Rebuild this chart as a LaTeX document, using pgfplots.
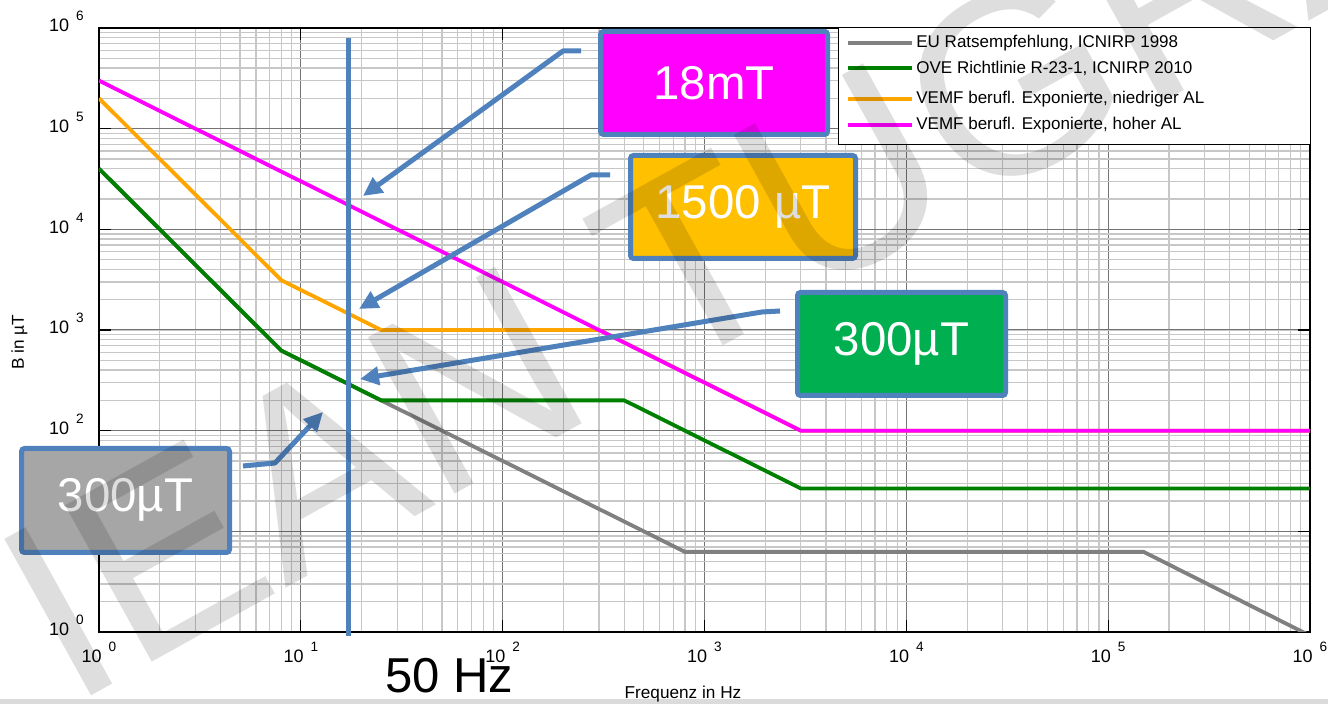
\documentclass[border=0pt]{standalone}
\usepackage{pgfplots}
\pgfplotsset{compat=1.18}
\usepackage{fontspec}
\setmainfont{Liberation Sans}
\usetikzlibrary{arrows.meta}
\definecolor{annblue}{RGB}{79,129,189}
\definecolor{boxorange}{RGB}{255,192,0}
\definecolor{boxgreen}{RGB}{0,176,80}
\definecolor{boxgray}{RGB}{166,166,166}
\definecolor{lgray}{RGB}{128,128,128}
\definecolor{lgreen}{RGB}{0,128,0}
\definecolor{lorange}{RGB}{255,165,0}
\definecolor{lmag}{RGB}{255,0,255}
\newcommand\tl[1]{10\hspace{3.5pt}\raisebox{5.5pt}{\fontsize{6.8pt}{6.8pt}\selectfont #1}}
\begin{document}
\begin{tikzpicture}
\useasboundingbox (0,0) rectangle (664pt,352pt);
\begin{axis}[
  at={(49.5pt,36pt)}, anchor=south west,
  scale only axis, width=605.5pt, height=302pt,
  xmode=log, ymode=log,
  xmin=1, xmax=1e6, ymin=1, ymax=1e6,
  grid=both,
  major grid style={black!55, line width=0.5pt},
  minor grid style={black!22, line width=0.6pt},
  tick align=inside,
  major tick length=6pt, minor tick length=0pt,
  tick style={black, line width=0.6pt},
  axis line style={line width=0.6pt},
  xtick={1,10,100,1000,10000,100000,1000000},
  xticklabels={\tl{0},\tl{1},\tl{2},\tl{3},\tl{4},\tl{5},\tl{6}},
  ytick={1,10,100,1000,10000,100000,1000000},
  yticklabels={\tl{0},\tl{1},\tl{2},\tl{3},\tl{4},\tl{5},\tl{6}},
  xticklabel style={font=\fontsize{9pt}{10pt}\selectfont, anchor=base, inner sep=0pt, yshift=-15.5pt},
  yticklabel style={font=\fontsize{9pt}{10pt}\selectfont, anchor=base east, inner sep=0pt, xshift=-7.5pt, yshift=-2pt},
]
\addplot[lgray, line width=1.9pt] coordinates {(1,40000)(8,625)(25,200)(800,6.25)(150000,6.25)(1000000,0.92)};
\addplot[lgreen, line width=1.9pt] coordinates {(1,40000)(8,625)(25,200)(400,200)(3000,26.67)(1000000,26.67)};
\addplot[lorange, line width=1.9pt] coordinates {(1,200000)(8,3125)(25,1000)(300,1000)(3000,100)(1000000,100)};
\addplot[lmag, line width=1.9pt] coordinates {(1,300000)(3000,100)(1000000,100)};
\end{axis}
\begin{scope}[x=0.5pt,y=-0.5pt,shift={(0pt,352pt)}]
  % bottom band
  \fill[black!14] (0,699) rectangle (1328,704);
  % axis labels
  \node[rotate=90, font=\fontsize{8.6pt}{10pt}\selectfont, inner sep=0pt] at (19.5,342) {B in µT};
  \node[anchor=base, font=\fontsize{8.6pt}{10pt}\selectfont, inner sep=0pt] at (683,699) {Frequenz in Hz};
  \node[anchor=base west, font=\fontsize{24.5pt}{26pt}\selectfont, inner sep=0pt] at (385,693) {50 Hz};
  % vertical line
  \draw[annblue, line width=2.5pt] (348,38) -- (348,636);
  % arrows
  \begin{scope}[annblue, line width=2.5pt, line join=round, -{Triangle[length=9.5pt,width=9pt]}]
    \draw (581,51) -- (563,51) -- (363,196);
    \draw (610,175) -- (591,175) -- (359,309);
    \draw (780,311) -- (762,312) -- (360,379);
    \draw (243,466) -- (275,463) -- (323,412);
  \end{scope}
  % boxes
  \begin{scope}[draw=annblue, line width=2.5pt, rounded corners=1.5pt]
    \filldraw[fill=lmag] (600.5,31.5) rectangle (827.5,134.5);
    \filldraw[fill=boxorange] (630.5,155.5) rectangle (855.5,258.5);
    \filldraw[fill=boxgreen] (797.5,292.5) rectangle (1005.5,395.5);
    \filldraw[fill=boxgray] (21.5,448.5) rectangle (229.5,552.5);
  \end{scope}
  \begin{scope}[white, font=\fontsize{23.7pt}{26pt}\selectfont]
    \node at (714,83) {18mT};
    \node at (743,207) {1500 µT};
    \node at (901.5,344) {300µT};
    \node at (125.5,500) {300µT};
  \end{scope}
  % legend
  \filldraw[fill=white, draw=black, line width=0.5pt] (838,28) rectangle (1310,145);
  \begin{scope}[line width=2.4pt]
    \draw[lgray] (848,43) -- (912,43);
    \draw[lgreen] (848,68) -- (912,68);
    \draw[lorange] (848,99) -- (912,99);
    \draw[lmag] (848,125) -- (912,125);
  \end{scope}
  \begin{scope}[font=\fontsize{8.5pt}{10pt}\selectfont, anchor=west, inner sep=0pt]
    \node[anchor=west] at (916,43) {EU Ratsempfehlung, ICNIRP 1998};
    \node[anchor=west] at (916,68) {OVE Richtlinie R-23-1, ICNIRP 2010};
    \node[anchor=west] at (916,99) {VEMF berufl. Exponierte, niedriger AL};
    \node[anchor=west] at (916,125) {VEMF berufl. Exponierte, hoher AL};
  \end{scope}
  % watermark
  \node[rotate=29, anchor=base west, text=black, text opacity=0.13, font=\fontsize{130pt}{130pt}\selectfont, inner sep=0pt] at (70,708) {IEAN TUGRAZ};
\end{scope}
\end{tikzpicture}
\end{document}
